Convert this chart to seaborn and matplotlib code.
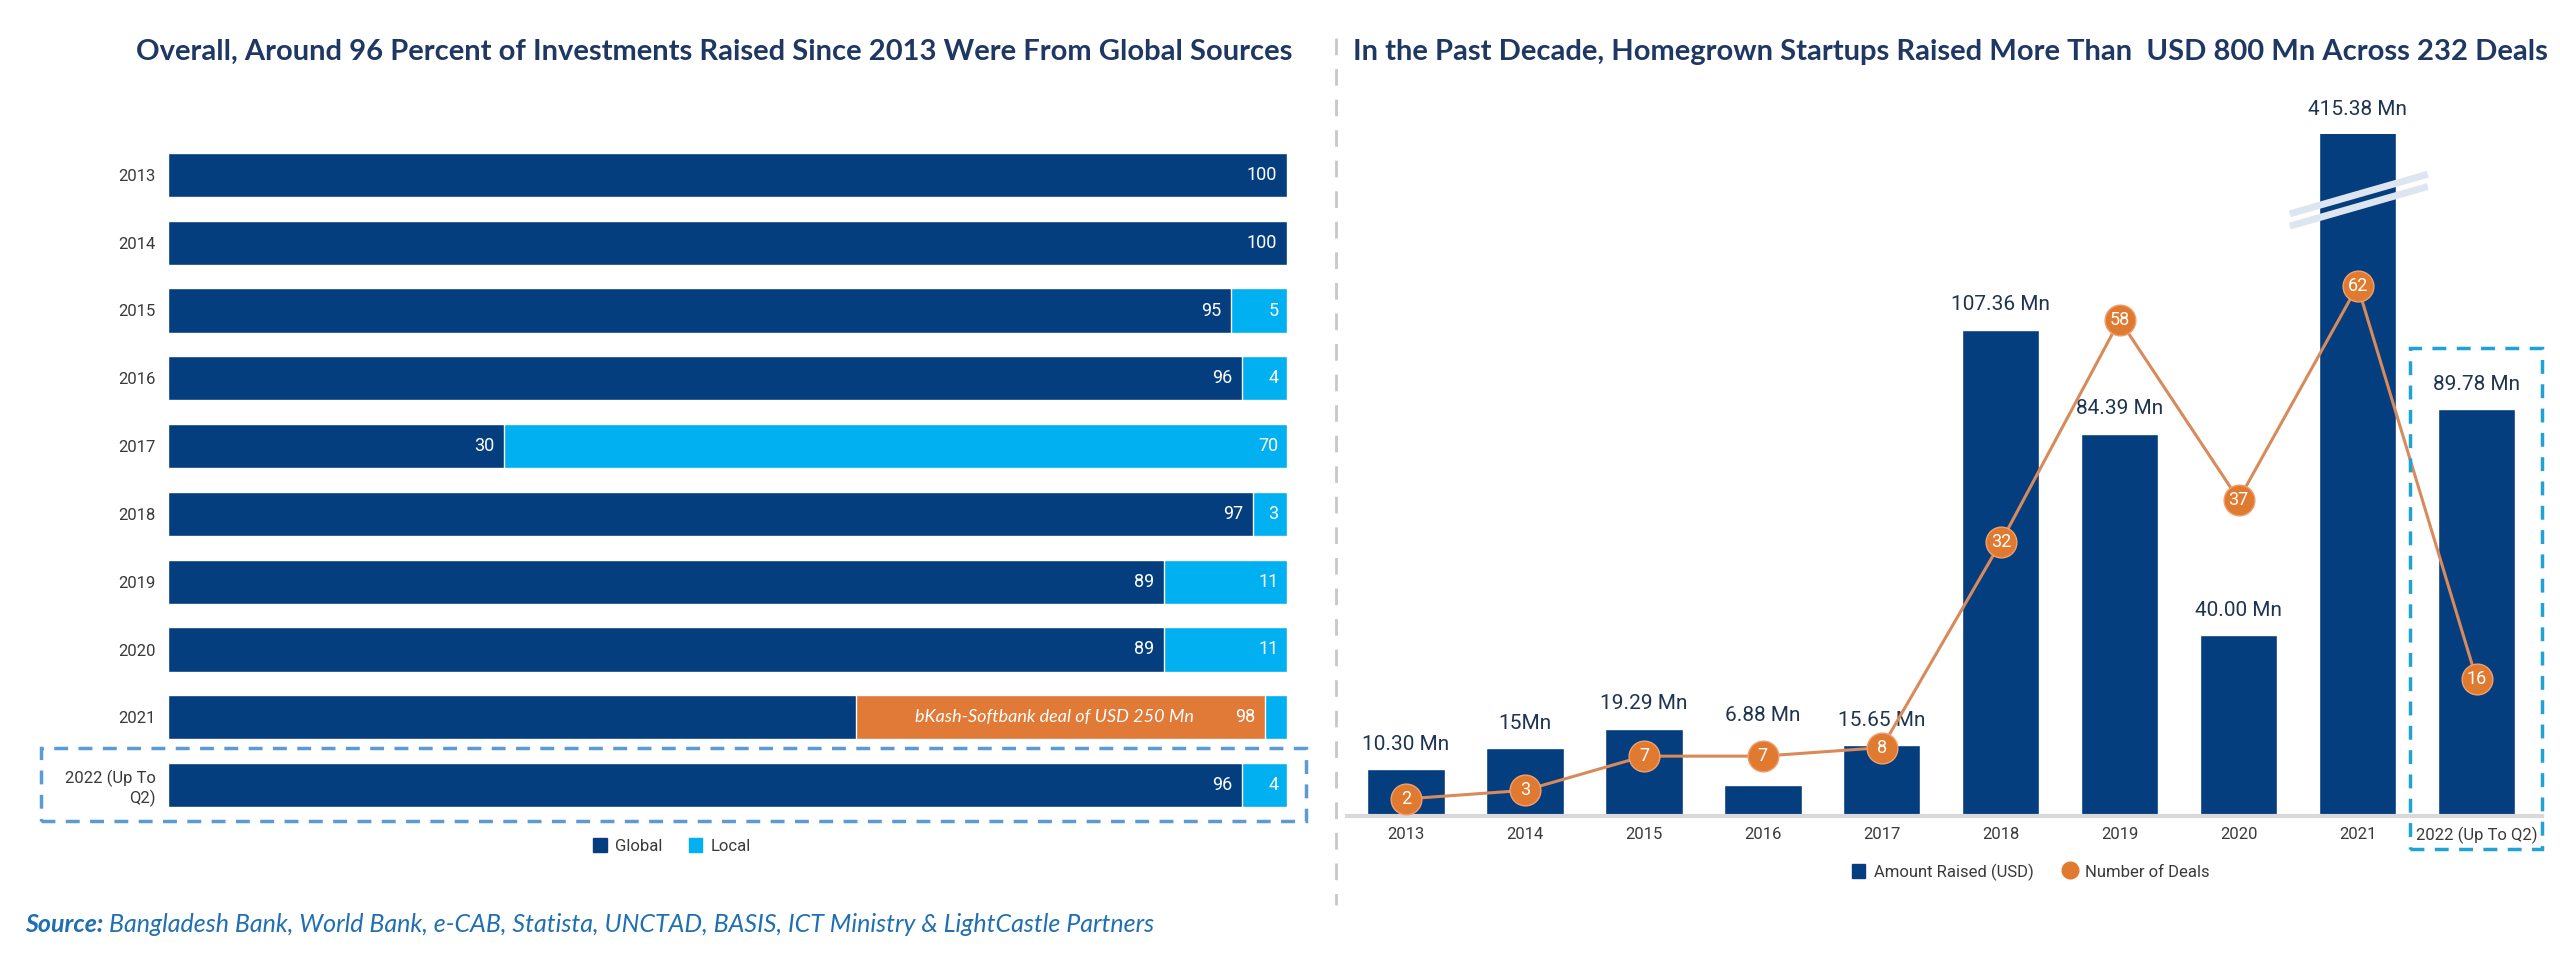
import matplotlib.pyplot as plt
import numpy as np
import pandas as pd
import seaborn as sns
import matplotlib.transforms as mtransforms
from matplotlib.lines import Line2D
from matplotlib.patches import Patch, Rectangle

# left chart: share of investments by source (percent)
share_years = ["2013", "2014", "2015", "2016", "2017", "2018", "2019", "2020", "2021", "2022 (Up To\nQ2)"]
global_share = [100, 100, 95, 96, 30, 97, 89, 89, 98, 96]
local_share = [0, 0, 5, 4, 70, 3, 11, 11, 2, 4]
# part of the 2021 global share that was the bKash-Softbank deal
bkash_share = [0, 0, 0, 0, 0, 0, 0, 0, 36.5, 0]

# right chart: amount raised and number of deals
fund_years = ["2013", "2014", "2015", "2016", "2017", "2018", "2019", "2020", "2021", "2022 (Up To Q2)"]
amount_mn = [10.30, 15, 19.29, 6.88, 15.65, 107.36, 84.39, 40.00, 415.38, 89.78]
amount_labels = ["10.30 Mn", "15Mn", "19.29 Mn", "6.88 Mn", "15.65 Mn", "107.36 Mn",
                 "84.39 Mn", "40.00 Mn", "415.38 Mn", "89.78 Mn"]
deals = [2, 3, 7, 7, 8, 32, 58, 37, 62, 16]

NAVY = "#053E7E"
LIGHT = "#00B0F0"
ORANGE = "#E07A36"
LINE_OR = "#D98A5A"
TITLE = "#1F3863"
TXT = "#3A3A3A"

sns.set_theme(style="white")
plt.rcParams["font.family"] = ["Roboto", "DejaVu Sans"]

W, H = 2560, 955
fig = plt.figure(figsize=(W / 100, H / 100), dpi=100)


def fx(px):
    return px / W


def fy(py):
    return 1 - py / H


# ---------------- left chart ----------------
axl = fig.add_axes([fx(168), fy(819), fx(1287 - 168), (819 - 141) / H])
tot = np.array(global_share) + np.array(local_share)
g = np.array(global_share, dtype=float)
b = np.array(bkash_share, dtype=float)

sns.barplot(x=tot, y=share_years, orient="h", color=LIGHT, saturation=1, width=0.65, ax=axl)
sns.barplot(x=np.where(b > 0, g, 0), y=share_years, orient="h", color=ORANGE, saturation=1, width=0.65, ax=axl)
sns.barplot(x=g - b, y=share_years, orient="h", color=NAVY, saturation=1, width=0.65, ax=axl)

axl.set_xlim(0, 100)
axl.set_ylim(9.5, -0.5)
axl.set_xlabel("")
axl.set_ylabel("")
axl.set_xticks([])
sns.despine(ax=axl, left=True, bottom=True)
axl.tick_params(axis="y", length=0, pad=9, labelsize=12, labelcolor=TXT)
for lab in axl.get_yticklabels():
    lab.set_horizontalalignment("right")

for i in range(len(share_years)):
    axl.annotate(str(global_share[i]), (global_share[i], i), xytext=(-7, 0), textcoords="offset points",
                 ha="right", va="center", color="white", fontsize=13)
    if local_share[i] > 2.5:
        axl.annotate(str(local_share[i]), (tot[i], i), xytext=(-6, 0), textcoords="offset points",
                     ha="right", va="center", color="white", fontsize=13)
    if b[i] > 0:
        axl.text(g[i] - b[i] / 2 - 0.5, i, "bKash-Softbank deal of USD 250 Mn", ha="center", va="center",
                 color="white", fontsize=13, style="italic", family=["Lato", "DejaVu Sans"])

fig.legend(handles=[Patch(color=NAVY, label="Global"), Patch(color=LIGHT, label="Local")],
           loc="center", bbox_to_anchor=(fx(672), fy(846)), ncol=2, frameon=False,
           fontsize=12, handlelength=0.8, handleheight=0.9, handletextpad=0.5, columnspacing=1.6,
           labelcolor=TXT)

fig.add_artist(Rectangle((fx(41), fy(821)), fx(1306 - 41), (821 - 748) / H, transform=fig.transFigure,
                         fill=False, ec="#5B9BD5", lw=2.5, ls=(0, (4, 3))))

# ---------------- right chart ----------------
axr = fig.add_axes([fx(1346.5), fy(816), fx(2542 - 1346.5), (816 - 134) / H])
ytop = 682 / 4.53
xs = list(range(len(fund_years)))
sns.barplot(x=xs, y=amount_mn, color=NAVY, saturation=1, width=0.65, ax=axr)
axr.set_ylim(0, ytop)
axr.set_xlim(-0.5, 9.55)
axr.set_xticks(xs)
axr.set_xticklabels(fund_years)
axr.set_yticks([])
axr.set_xlabel("")
axr.set_ylabel("")
sns.despine(ax=axr, left=True)
axr.spines["bottom"].set_color("#D9D9D9")
axr.spines["bottom"].set_linewidth(3)
axr.tick_params(axis="x", length=0, pad=8, labelsize=12, labelcolor=TXT)

# axis break marks on the 2021 bar
tr = mtransforms.blended_transform_factory(axr.transData, axr.transAxes)
for dy in (0.0, -0.018):
    axr.plot([7.43, 8.59], [0.883 + dy, 0.941 + dy], transform=tr, color="#DDE6F0", lw=5,
             solid_capstyle="butt", clip_on=False, zorder=5)

axd = axr.twinx()
sns.lineplot(x=xs, y=deals, ax=axd, color=LINE_OR, lw=2.2, zorder=3)
sns.scatterplot(x=xs, y=deals, ax=axd, color="#E07A30", s=490,
                edgecolor="#F0A070", linewidth=1, zorder=4)
axd.set_ylim(0, 682 / 8.55)
axd.axis("off")
for i, d in enumerate(deals):
    axd.text(i, d, str(d), ha="center", va="center", color="white", fontsize=13, zorder=6)

# amount labels: above the bar, or above the deal marker when it sits just over the bar top
circle_r = 16
for i, v in enumerate(amount_mn):
    bar_top = axr.transData.transform((i, min(v, ytop)))[1]
    dot = axd.transData.transform((i, deals[i]))[1]
    base = bar_top
    if 0 < dot - bar_top < 45:
        base = dot + circle_r
    y_data = axr.transData.inverted().transform((0, base))[1]
    axr.annotate(amount_labels[i], (i, y_data), xytext=(0, 11), textcoords="offset points",
                 ha="center", va="bottom", color="#1F3450", fontsize=15, annotation_clip=False)

fig.legend(handles=[Patch(color=NAVY, label="Amount Raised (USD)"),
                    Line2D([], [], ls="none", marker="o", ms=12, color="#E07A30", label="Number of Deals")],
           loc="center", bbox_to_anchor=(fx(2031), fy(872)), ncol=2, frameon=False, fontsize=12,
           handlelength=0.8, handleheight=0.9, handletextpad=0.5, columnspacing=1.8, labelcolor=TXT)

fig.add_artist(Rectangle((fx(2410), fy(849)), fx(2542 - 2410), (849 - 348) / H, transform=fig.transFigure,
                         fill=False, ec="#1FA3D6", lw=2.5, ls=(0, (4, 3))))

# separator
fig.add_artist(Line2D([fx(1336), fx(1336)], [fy(38), fy(905)], transform=fig.transFigure,
                      color="#C8C8C8", lw=2, ls=(0, (6, 5))))

# titles
fig.text(fx(714), fy(52), "Overall, Around 96 Percent of Investments Raised Since 2013 Were From Global Sources",
         ha="center", va="center", fontsize=21, fontweight="bold", color=TITLE, family=["Lato", "DejaVu Sans"])
fig.text(fx(1950), fy(52), "In the Past Decade, Homegrown Startups Raised More Than  USD 800 Mn Across 232 Deals",
         ha="center", va="center", fontsize=21, fontweight="bold", color=TITLE, family=["Lato", "DejaVu Sans"])

# source line
src = fig.text(fx(25), fy(924), "Source:", ha="left", va="center", fontsize=18, fontweight="bold",
               style="italic", color="#1F6FB2", family=["Lato", "DejaVu Sans"])
rend = fig.canvas.get_renderer()
bb = src.get_window_extent(renderer=rend)
fig.text(bb.x1 / W + fx(6), fy(924),
         "Bangladesh Bank, World Bank, e-CAB, Statista, UNCTAD, BASIS, ICT Ministry & LightCastle Partners",
         ha="left", va="center", fontsize=18, style="italic", color="#1F6FB2", family=["Lato", "DejaVu Sans"])

fig.savefig("out.png", dpi=100)
